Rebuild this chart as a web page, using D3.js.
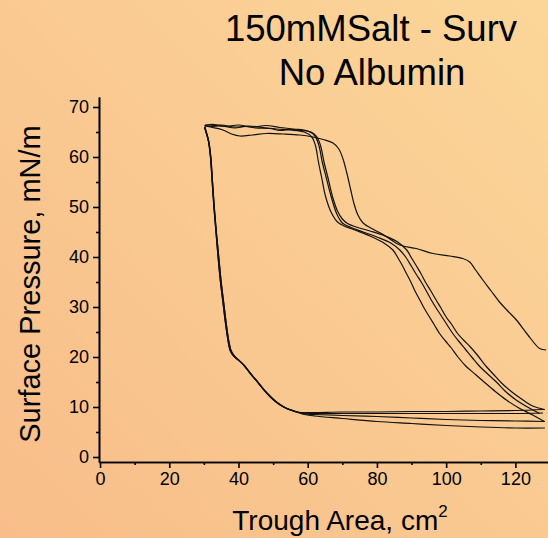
<!DOCTYPE html>
<html>
<head>
<meta charset="utf-8">
<title>150mMSalt - Surv</title>
<script src="https://cdn.jsdelivr.net/npm/d3@7/dist/d3.min.js"></script>
<style>
  body { margin: 0; }
  text { font-family: Arial, "Liberation Sans", sans-serif; fill: #000; }
</style>
</head>
<body>
<svg width="548" height="538" id="mainsvg"></svg>
<script>
const xTicks = [0, 20, 40, 60, 80, 100, 120];
const xMinor = [10, 30, 50, 70, 90, 110];
const yTicks = [0, 10, 20, 30, 40, 50, 60, 70];
const yMinor = [5, 15, 25, 35, 45, 55, 65];

// compression runs (area, pressure), read right to left
const comp1 = [[128.9,21.4],[127,21.7],[123.5,24.5],[120.3,27.4],[117.8,29.2],[115.4,31],[113,33.2],[110.6,35.4],[108.5,37.4],[106.8,39],[104.8,39.7],[101,40.2],[96.2,40.7],[91.4,41.7],[86.6,42.4],[82,44.4],[78.8,45.6],[76,46.8],[74.5,48.4],[73.4,50.6],[72.4,53.5],[71.3,56.8],[70.2,59.6],[69,61.6],[67.3,62.8],[64.5,63.5],[61.5,64],[57.7,64.4],[53,64.6],[48,64.7],[44,64.4],[40.4,64.2],[38,64.6],[35.5,65.4],[32.5,65.9],[30.2,66.2]];
const comp2 = [[128.4,9.5],[125,10.2],[122.2,11.4],[119,13],[116,14.8],[113.6,16.6],[111.6,18.1],[109,20.4],[107,22],[105,23.4],[103.3,24.7],[101.5,26.6],[100,28],[98.5,29.8],[97.1,31.4],[95.5,33.3],[94,35],[92.7,36.7],[91.5,38.1],[90,39.8],[88.6,41.4],[86,43],[82,44.3],[78,45.2],[74,46],[71.5,46.7],[70,47.6],[68.6,49.2],[67.2,52],[65.8,56],[64.7,59],[63.7,62.3],[62.6,64.1],[61,65],[58,65.3],[55,65.5],[52,65.3],[49,65.7],[45,65.8],[42,66.1],[39,65.8],[35,66.2],[32,66.1],[30.3,66.3]];
const comp3 = [[127,8.7],[123.5,10],[120.2,11.4],[117,13.2],[114.5,15],[112,16.6],[109.7,18.1],[107.5,19.9],[105.5,21.6],[103.6,23.2],[101.9,24.7],[100.3,26.4],[98.8,28],[97.2,29.7],[95.7,31.4],[94.2,33.3],[92.8,35],[91.3,36.6],[90,38.1],[88.4,39.9],[86.6,41.4],[84,42.8],[80,44],[76,45],[72.5,45.9],[70,46.8],[68.4,48.6],[66.8,52],[65.3,56],[64.2,59],[63.2,62.4],[62.1,64.2],[60,65.2],[56,65.6],[52,65.9],[48,66.3],[44,66],[40,66.4],[36,66.1],[33,66.5],[30.3,66.4]];
const comp4 = [[128.4,7.1],[125,8.4],[121,9.8],[117.4,11.4],[114.2,13.1],[111.3,14.8],[108.5,16.5],[105.8,18.1],[103.4,20],[101.5,21.8],[99.8,23.2],[98.1,24.7],[96.6,26.4],[95.1,28.1],[93.7,29.7],[92.4,31.4],[91,33.2],[89.8,35],[88.6,36.6],[87.5,38.1],[86,39.9],[84.6,41.4],[82,42.8],[78,44.2],[74,45.3],[70.5,46.2],[68.6,47],[66.8,48.9],[65.2,52],[64,56],[63.1,59],[62.2,62.4],[61.2,64],[59,65],[55,65.4],[51,65.6],[47,65.9],[43,66.2],[39,66],[35,66.4],[31.5,66.2],[30.2,66.3]];

// expansion runs, read left to right
const expSteepA = [[30.2,66.0],[30.6,65.0],[31.3,63.2],[31.9,60],[32.4,55],[32.9,50],[33.5,45],[34.1,40],[34.8,35],[35.5,31],[36.2,27],[36.9,23.6],[37.6,21.3],[38.6,20.2],[40,19.4],[41.5,18.4],[43.3,16.8],[45.3,15.2],[47.5,13.3],[50,11.5],[52.5,10.2],[55,9.4]];
const expSteepB = [[30.2,66.0],[30.7,65.0],[31.4,63.2],[32.0,60],[32.5,55],[33.0,50],[33.6,45],[34.3,40],[35.0,35],[35.7,31],[36.4,27],[37.1,23.6],[37.9,21.2],[38.9,20.1],[40.3,19.2],[41.9,18.1],[43.8,16.4],[45.9,14.7],[48.2,12.8],[50.8,11.1],[53.4,9.9],[56,9.2]];
const exp1 = expSteepA.concat([[58,8.9],[62,8.9],[70,9.0],[80,9.0],[90,9.1],[100,9.1],[110,9.2],[120,9.3],[128.5,9.5]]);
const exp2 = expSteepA.concat([[58,8.8],[62,8.7],[70,8.7],[80,8.7],[90,8.7],[100,8.7],[110,8.7],[120,8.7],[128,8.8]]);
const exp3 = expSteepB.concat([[59,8.6],[62,8.5],[70,8.3],[80,8.1],[90,7.8],[100,7.5],[110,7.3],[120,7.2],[128.5,7.1]]);
const exp4 = expSteepB.concat([[58.5,8.6],[62,8.2],[70,7.7],[80,7.1],[90,6.7],[100,6.3],[110,6.0],[120,5.8],[128.5,5.8]]);

const runs = [comp1, exp1, comp2, exp2, comp3, exp3, comp4, exp4];

const svg = d3.select('#mainsvg');
const width = +svg.attr('width');
const height = +svg.attr('height');

// background wash
const defs = svg.append('defs');
const grad = defs.append('linearGradient').attr('id', 'bg')
  .attr('x1', 0).attr('y1', 1).attr('x2', 1).attr('y2', 0);
grad.append('stop').attr('offset', '0%').attr('stop-color', '#f8bd8a');
grad.append('stop').attr('offset', '100%').attr('stop-color', '#fbd699');
svg.append('rect').attr('width', width).attr('height', height).attr('fill', 'url(#bg)');

const xScale = d3.scaleLinear().domain([-0.3, 130]).range([99, 550]);
const yScale = d3.scaleLinear().domain([-1, 72]).range([462, 97]);

const g = svg.append('g').attr('id', 'maingroup');

const line = d3.line()
  .curve(d3.curveCatmullRom.alpha(0.5))
  .x(d => xScale(d[0]))
  .y(d => yScale(d[1]));

g.selectAll('.run')
  .data(runs)
  .join('path')
  .attr('class', 'run')
  .attr('d', line)
  .attr('fill', 'none')
  .attr('stroke', '#111')
  .attr('stroke-width', 1.2)
  .attr('stroke-linejoin', 'round');

// axes
const xAxis = d3.axisBottom(xScale).tickValues(xTicks).tickSize(6).tickSizeOuter(0).tickPadding(4);
const xAxisMinor = d3.axisBottom(xScale).tickValues(xMinor).tickSize(3).tickSizeOuter(0).tickFormat('');
const yAxis = d3.axisLeft(yScale).tickValues(yTicks).tickSize(6).tickSizeOuter(0).tickPadding(4);
const yAxisMinor = d3.axisLeft(yScale).tickValues(yMinor).tickSize(3).tickSizeOuter(0).tickFormat('');

const xg = g.append('g').attr('transform', `translate(0, ${yScale(-1)})`).call(xAxis);
g.append('g').attr('transform', `translate(0, ${yScale(-1)})`).call(xAxisMinor);
const yg = g.append('g').attr('transform', `translate(${xScale(-0.3)}, 0)`).call(yAxis);
g.append('g').attr('transform', `translate(${xScale(-0.3)}, 0)`).call(yAxisMinor);

g.selectAll('.domain, .tick line').attr('stroke', '#000').attr('stroke-width', 1.6);
xg.selectAll('.tick text').attr('font-size', 18).attr('font-family', 'Arial, "Liberation Sans", sans-serif');
yg.selectAll('.tick text').attr('font-size', 18).attr('font-family', 'Arial, "Liberation Sans", sans-serif');

// titles
svg.append('text').attr('x', 371).attr('y', 41).attr('text-anchor', 'middle')
  .attr('font-size', 36.5).text('150mMSalt - Surv');
svg.append('text').attr('x', 372).attr('y', 85).attr('text-anchor', 'middle')
  .attr('font-size', 36.5).text('No Albumin');

const xLabel = svg.append('text').attr('x', 340).attr('y', 530).attr('text-anchor', 'middle')
  .attr('font-size', 28);
xLabel.append('tspan').text('Trough Area, cm');
xLabel.append('tspan').attr('font-size', 17).attr('dy', -13).text('2');

svg.append('text')
  .attr('transform', `translate(40, 284) rotate(-90)`)
  .attr('text-anchor', 'middle')
  .attr('font-size', 29)
  .text('Surface Pressure, mN/m');
</script>
</body>
</html>
